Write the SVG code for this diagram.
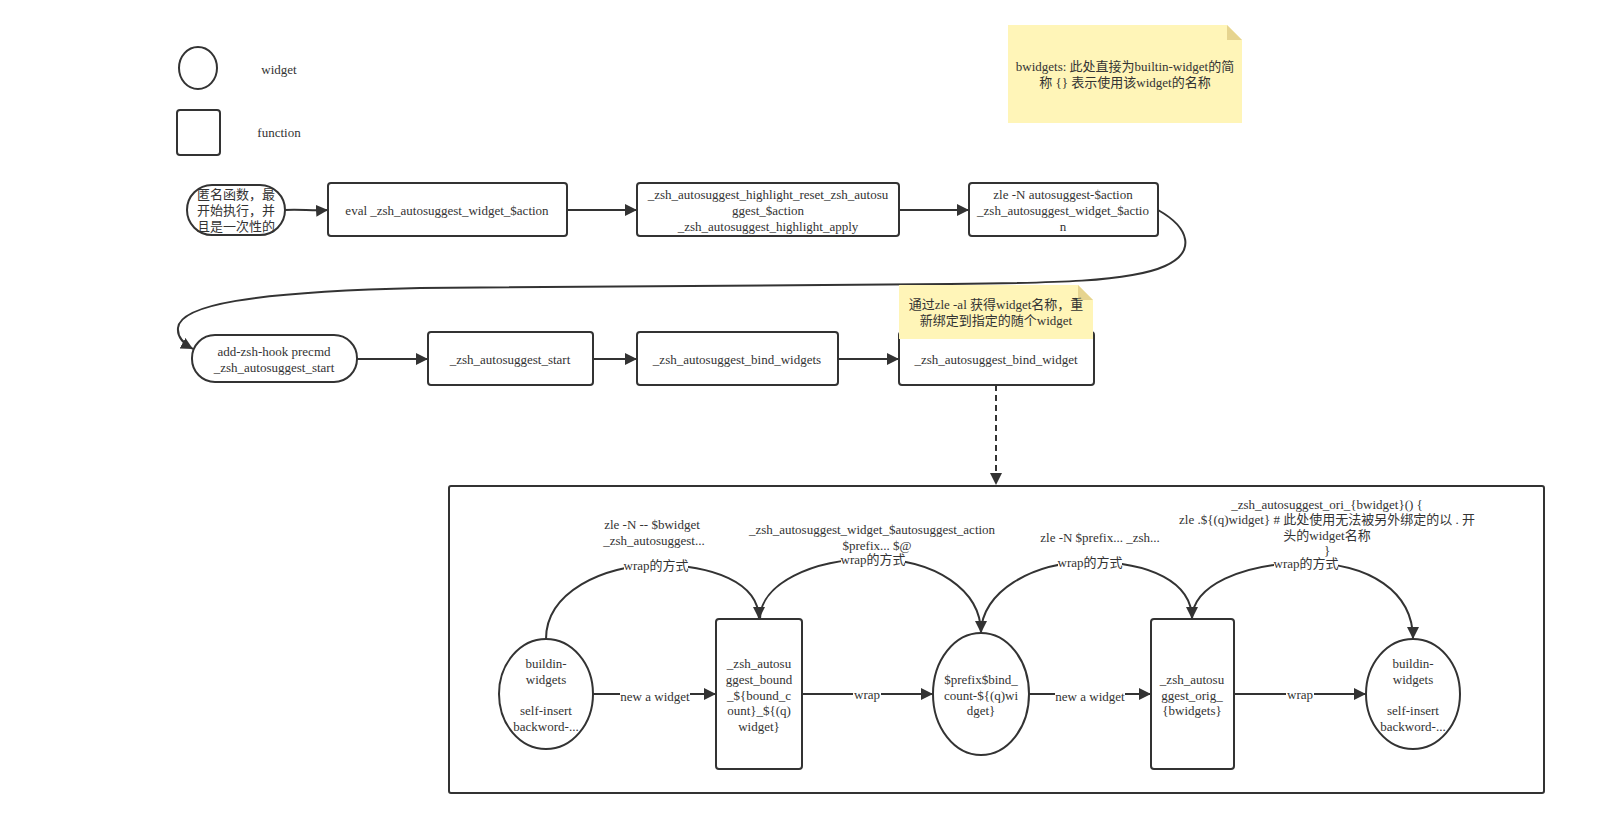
<svg xmlns="http://www.w3.org/2000/svg" width="1598" height="834" viewBox="0 0 1598 834">
<defs>
<marker id="arr" viewBox="0 0 10 10" refX="10" refY="5" markerWidth="12" markerHeight="12" markerUnits="userSpaceOnUse" orient="auto">
<path d="M0,0 L10,5 L0,10 Z" fill="#333"/>
</marker>
</defs>
<style>
text{font-family:"Liberation Serif","Noto Sans CJK SC",serif;font-size:13px;fill:#333;text-anchor:middle}
.box{fill:#fff;stroke:#333;stroke-width:2}
.frame{fill:none;stroke:#333;stroke-width:2}
.note{fill:#fff5b8}
.fold{fill:#e6d48f}
.edge{fill:none;stroke:#333;stroke-width:2}
.dash{stroke-dasharray:6 4}
.bg{fill:#fff}
</style>
<rect width="1598" height="834" fill="#fff"/>

<g id="legend">
<ellipse class="box" cx="198" cy="68" rx="19" ry="21"/>
<text x="279" y="74">widget</text>
<rect class="box" x="177" y="110" width="43" height="45" rx="3"/>
<text x="279" y="137">function</text>
</g>

<g id="note1">
<path class="note" d="M1008,25 L1227,25 L1242,40 L1242,123 L1008,123 Z"/>
<path class="fold" d="M1227,25 L1242,40 L1227,40 Z"/>
<text x="1125" y="71">bwidgets: 此处直接为builtin-widget的简</text>
<text x="1125" y="87">称 {} 表示使用该widget的名称</text>
</g>

<g id="connectors">
<path class="edge" marker-end="url(#arr)" d="M285,210 C300,209 312,211 328,210"/>
<path class="edge" marker-end="url(#arr)" d="M567,210 L637,210"/>
<path class="edge" marker-end="url(#arr)" d="M899,210 L969,210"/>
<path class="edge" marker-end="url(#arr)" d="M1158,210 C1190,228 1196,252 1165,266 C1130,282 1050,283 950,284 L420,288 C250,292 180,305 178,328 C177,338 184,344 193,349"/>
<path class="edge" marker-end="url(#arr)" d="M357,359 L428,359"/>
<path class="edge" marker-end="url(#arr)" d="M593,359 L637,359"/>
<path class="edge" marker-end="url(#arr)" d="M838,359 L899,359"/>
<path class="edge dash" marker-end="url(#arr)" d="M996,385 L996,485"/>

<path class="edge" marker-end="url(#arr)" d="M593,694 L716,694"/>
<path class="edge" marker-end="url(#arr)" d="M802,694 L933,694"/>
<path class="edge" marker-end="url(#arr)" d="M1029,694 L1151,694"/>
<path class="edge" marker-end="url(#arr)" d="M1234,694 L1366,694"/>

<path class="edge" marker-end="url(#arr)" d="M546,639 C546,592 604,565 656,565 C712,565 759,582 759,619"/>
<path class="edge" marker-end="url(#arr)" d="M760,619 C760,584 812,559 873,559 C935,559 981,590 981,633"/>
<path class="edge" marker-end="url(#arr)" d="M981,633 C981,592 1032,562 1090,562 C1150,562 1192,582 1192,619"/>
<path class="edge" marker-end="url(#arr)" d="M1192,619 C1192,586 1242,563 1306,563 C1370,563 1413,592 1413,639"/>

<rect class="bg" x="620" y="688" width="70" height="16"/>
<text x="655" y="701">new a widget</text>
<rect class="bg" x="853" y="688" width="28" height="14"/>
<text x="867" y="699">wrap</text>
<rect class="bg" x="1055" y="688" width="70" height="16"/>
<text x="1090" y="701">new a widget</text>
<rect class="bg" x="1286" y="688" width="28" height="14"/>
<text x="1300" y="699">wrap</text>

<rect class="bg" x="624" y="557" width="64" height="16"/>
<text x="656" y="570">wrap的方式</text>
<text x="652" y="529">zle -N -- $bwidget</text>
<text x="654" y="545">_zsh_autosuggest...</text>

<rect class="bg" x="841" y="551" width="64" height="16"/>
<text x="873" y="564">wrap的方式</text>
<text x="872" y="534">_zsh_autosuggest_widget_$autosuggest_action</text>
<text x="877" y="550">$prefix... $@</text>

<rect class="bg" x="1058" y="554" width="64" height="16"/>
<text x="1090" y="567">wrap的方式</text>
<text x="1100" y="542">zle -N $prefix... _zsh...</text>

<rect class="bg" x="1274" y="555" width="64" height="16"/>
<text x="1306" y="568">wrap的方式</text>
<text x="1327" y="509">_zsh_autosuggest_ori_{bwidget}() {</text>
<text x="1327" y="524">zle .${(q)widget} # 此处使用无法被另外绑定的以 . 开</text>
<text x="1327" y="540">头的widget名称</text>
<text x="1327" y="555">}</text>
</g>

<g id="n_anon">
<rect class="box" x="187" y="185" width="98" height="50" rx="25"/>
<text x="236" y="199">匿名函数，最</text>
<text x="236" y="215">开始执行，并</text>
<text x="236" y="231">且是一次性的</text>
</g>
<g id="n_eval">
<rect class="box" x="328" y="183" width="239" height="53" rx="3"/>
<text x="447" y="215">eval _zsh_autosuggest_widget_$action</text>
</g>
<g id="n_highlight">
<rect class="box" x="637" y="183" width="262" height="53" rx="3"/>
<text x="768" y="199">_zsh_autosuggest_highlight_reset_zsh_autosu</text>
<text x="768" y="215">ggest_$action</text>
<text x="768" y="231">_zsh_autosuggest_highlight_apply</text>
</g>
<g id="n_zle">
<rect class="box" x="969" y="183" width="189" height="53" rx="3"/>
<text x="1063" y="199">zle -N autosuggest-$action</text>
<text x="1063" y="215">_zsh_autosuggest_widget_$actio</text>
<text x="1063" y="231">n</text>
</g>

<g id="n_hook">
<rect class="box" x="192" y="335" width="165" height="47" rx="23"/>
<text x="274" y="356">add-zsh-hook precmd</text>
<text x="274" y="372">_zsh_autosuggest_start</text>
</g>
<g id="n_start">
<rect class="box" x="428" y="332" width="165" height="53" rx="3"/>
<text x="510" y="364">_zsh_autosuggest_start</text>
</g>
<g id="n_bind_widgets">
<rect class="box" x="637" y="332" width="201" height="53" rx="3"/>
<text x="737" y="364">_zsh_autosuggest_bind_widgets</text>
</g>
<g id="n_bind_widget">
<rect class="box" x="899" y="332" width="195" height="53" rx="3"/>
<text x="996" y="364">_zsh_autosuggest_bind_widget</text>
</g>
<g id="note2">
<path class="note" d="M899,285 L1078,285 L1093,300 L1093,339 L899,339 Z"/>
<path class="fold" d="M1078,285 L1093,300 L1078,300 Z"/>
<text x="996" y="309">通过zle -al 获得widget名称，重</text>
<text x="996" y="325">新绑定到指定的随个widget</text>
</g>

<g id="container">
<rect class="frame" x="449" y="486" width="1095" height="307" rx="2"/>
</g>

<g id="n_builtin1">
<ellipse class="box" cx="546" cy="694" rx="47" ry="55"/>
<text x="546" y="668">buildin-</text>
<text x="546" y="684">widgets</text>
<text x="546" y="715">self-insert</text>
<text x="546" y="731">backword-...</text>
</g>
<g id="n_bound">
<rect class="box" x="716" y="619" width="86" height="150" rx="3"/>
<text x="759" y="668">_zsh_autosu</text>
<text x="759" y="684">ggest_bound</text>
<text x="759" y="700">_${bound_c</text>
<text x="759" y="715">ount}_${(q)</text>
<text x="759" y="731">widget}</text>
</g>
<g id="n_prefix">
<ellipse class="box" cx="981" cy="694" rx="48" ry="61"/>
<text x="981" y="684">$prefix$bind_</text>
<text x="981" y="700">count-${(q)wi</text>
<text x="981" y="715">dget}</text>
</g>
<g id="n_orig">
<rect class="box" x="1151" y="619" width="83" height="150" rx="3"/>
<text x="1192" y="684">_zsh_autosu</text>
<text x="1192" y="700">ggest_orig_</text>
<text x="1192" y="715">{bwidgets}</text>
</g>
<g id="n_builtin2">
<ellipse class="box" cx="1413" cy="694" rx="47" ry="55"/>
<text x="1413" y="668">buildin-</text>
<text x="1413" y="684">widgets</text>
<text x="1413" y="715">self-insert</text>
<text x="1413" y="731">backword-...</text>
</g>
</svg>
